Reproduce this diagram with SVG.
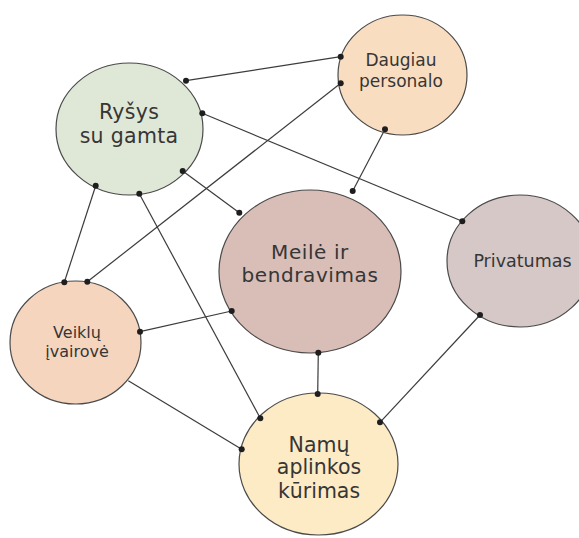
<svg xmlns="http://www.w3.org/2000/svg" width="579" height="538" viewBox="0 0 579 538">
  <style>
    .node { stroke: #4a4a4a; stroke-width: 1.2; }
    .label { font-family: "DejaVu Sans", "Liberation Sans", sans-serif; fill: #363636; text-anchor: middle; }
    .link { stroke: #3c3c3c; stroke-width: 1.2; fill: none; }
    .dot { fill: #1e1e1e; }
  </style>
  <rect width="579" height="538" fill="#ffffff"/>

  <!-- connectors between topics, with dots where they meet a circle -->
  <g id="connectors">
    <line class="link" x1="186" y1="80.7" x2="340.7" y2="56.7"/>
    <line class="link" x1="202.3" y1="113.3" x2="462.3" y2="221.3"/>
    <line class="link" x1="182.7" y1="171" x2="239.3" y2="212.7"/>
    <line class="link" x1="95.7" y1="185.7" x2="64.3" y2="282.3"/>
    <line class="link" x1="139.3" y1="193.7" x2="260.3" y2="418.3"/>
    <line class="link" x1="340.7" y1="83.3" x2="87.3" y2="281.7"/>
    <line class="link" x1="385" y1="129.3" x2="352.7" y2="191"/>
    <line class="link" x1="231.7" y1="311" x2="140" y2="331.7"/>
    <line class="link" x1="318.3" y1="352.7" x2="317.7" y2="394"/>
    <line class="link" x1="480" y1="315" x2="380" y2="422.3"/>
    <line class="link" x1="128.3" y1="380.7" x2="241.7" y2="449.3"/>
  </g>

  <g id="node-rysys">
    <ellipse class="node" cx="129.5" cy="129" rx="73.5" ry="66" fill="#dfe8d7"/>
    <text class="label" x="129" y="119.3" font-size="20.5" letter-spacing="0.3">Ryšys</text>
    <text class="label" x="129" y="142.7" font-size="20.5" letter-spacing="0.3">su gamta</text>
  </g>

  <g id="node-daugiau">
    <ellipse class="node" cx="402.5" cy="75" rx="64.5" ry="60" fill="#f9ddc1"/>
    <text class="label" x="401" y="66" font-size="17">Daugiau</text>
    <text class="label" x="401" y="87.3" font-size="17">personalo</text>
  </g>

  <g id="node-meile">
    <ellipse class="node" cx="310" cy="271.5" rx="91" ry="81.5" fill="#d9bdb7"/>
    <text class="label" x="310" y="259.3" font-size="20" letter-spacing="0.6">Meilė ir</text>
    <text class="label" x="310" y="282.3" font-size="20" letter-spacing="0.6">bendravimas</text>
  </g>

  <g id="node-privatumas">
    <ellipse class="node" cx="520" cy="261" rx="73" ry="66" fill="#d6c8c7"/>
    <text class="label" x="522.5" y="267.3" font-size="17.5">Privatumas</text>
  </g>

  <g id="node-veiklu">
    <ellipse class="node" cx="75.5" cy="342.5" rx="65.5" ry="61.5" fill="#f6d5be"/>
    <text class="label" x="77" y="337.7" font-size="16">Veiklų</text>
    <text class="label" x="77" y="356.7" font-size="16">įvairovė</text>
  </g>

  <g id="node-namu">
    <ellipse class="node" cx="318.5" cy="464" rx="79.5" ry="71" fill="#fdebc6"/>
    <text class="label" x="319" y="451.7" font-size="20.5">Namų</text>
    <text class="label" x="319" y="474" font-size="20.5">aplinkos</text>
    <text class="label" x="319" y="498.3" font-size="20.5">kūrimas</text>
  </g>

  <!-- endpoint dots drawn over the circle outlines -->
  <g id="connector-dots">
    <circle class="dot" cx="186" cy="80.7" r="3"/>
    <circle class="dot" cx="340.7" cy="56.7" r="3"/>
    <circle class="dot" cx="202.3" cy="113.3" r="3"/>
    <circle class="dot" cx="462.3" cy="221.3" r="3"/>
    <circle class="dot" cx="182.7" cy="171" r="3"/>
    <circle class="dot" cx="239.3" cy="212.7" r="3"/>
    <circle class="dot" cx="95.7" cy="185.7" r="3"/>
    <circle class="dot" cx="64.3" cy="282.3" r="3"/>
    <circle class="dot" cx="139.3" cy="193.7" r="3"/>
    <circle class="dot" cx="260.3" cy="418.3" r="3"/>
    <circle class="dot" cx="340.7" cy="83.3" r="3"/>
    <circle class="dot" cx="87.3" cy="281.7" r="3"/>
    <circle class="dot" cx="385" cy="129.3" r="3"/>
    <circle class="dot" cx="352.7" cy="191" r="3"/>
    <circle class="dot" cx="231.7" cy="311" r="3"/>
    <circle class="dot" cx="140" cy="331.7" r="3"/>
    <circle class="dot" cx="318.3" cy="352.7" r="3"/>
    <circle class="dot" cx="317.7" cy="394" r="3"/>
    <circle class="dot" cx="480" cy="315" r="3"/>
    <circle class="dot" cx="380" cy="422.3" r="3"/>
    <circle class="dot" cx="241.7" cy="449.3" r="3"/>
  </g>
</svg>
